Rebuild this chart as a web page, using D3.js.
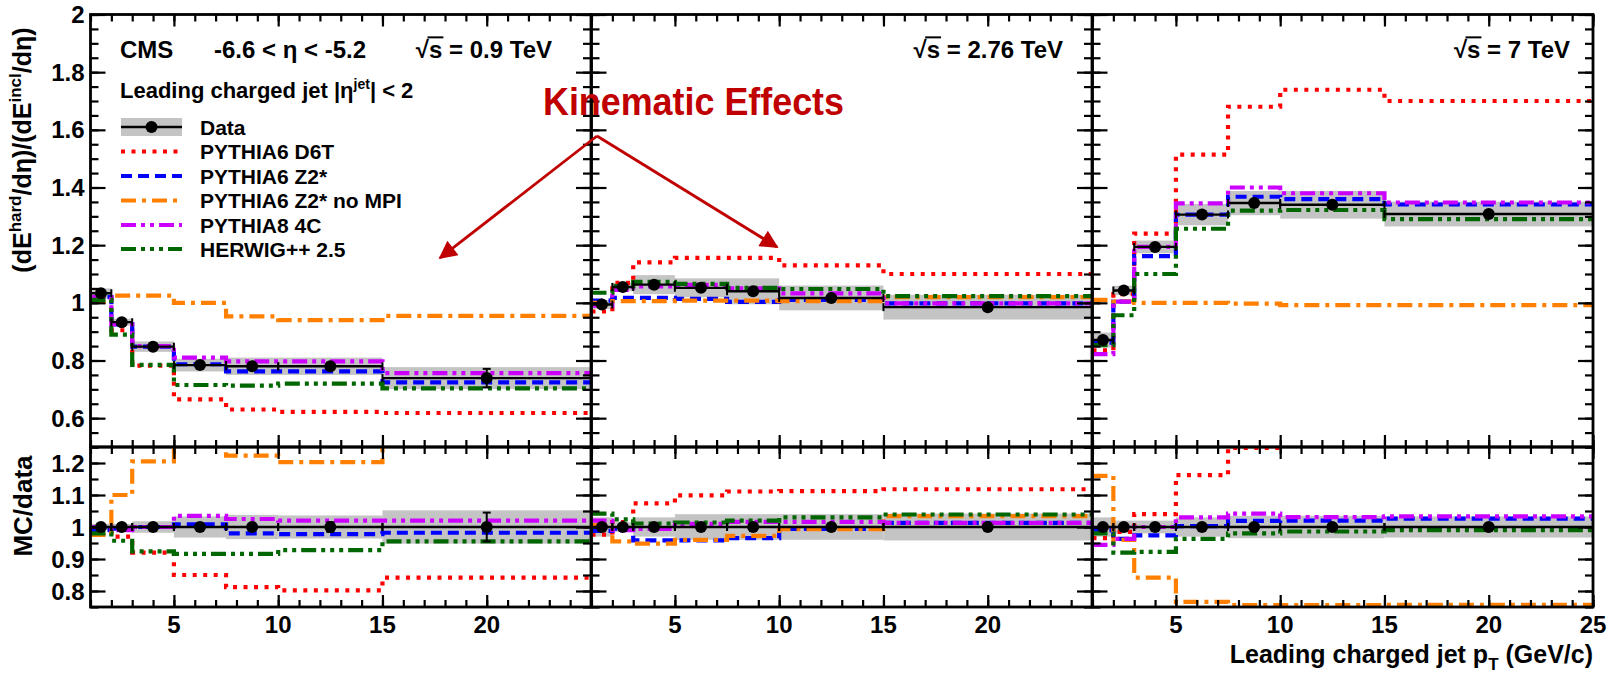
<!DOCTYPE html>
<html><head><meta charset="utf-8">
<script src="https://cdn.jsdelivr.net/npm/d3@7"></script>
<style>
body{margin:0;background:#fff}
svg{display:block}
text{font-family:"Liberation Sans",Arial,Helvetica,sans-serif;font-weight:bold;fill:#000}
</style>
</head><body>
<svg id="c" width="1617" height="674"></svg>
<script>
// ---------------- DATA ----------------
const binEdges = [1, 2, 3, 5, 7.5, 10, 15, 25];
const energyLabels = ["√s = 0.9 TeV", "√s = 2.76 TeV", "√s = 7 TeV"];
const xTickLabels = ["5", "10", "15", "20", "25"];
const topTickLabels = ["0.6", "0.8", "1", "1.2", "1.4", "1.6", "1.8", "2"];
const botTickLabels = ["0.8", "0.9", "1", "1.1", "1.2"];
const seriesNames = ["PYTHIA6 D6T", "PYTHIA6 Z2*", "PYTHIA6 Z2* no MPI", "PYTHIA8 4C", "HERWIG++ 2.5"];

// Data (per panel: 0.9, 2.76, 7 TeV)
const dataVal = [
  [1.033, 0.933, 0.848, 0.784, 0.780, 0.780, 0.739],
  [0.994, 1.055, 1.063, 1.052, 1.040, 1.017, 0.985],
  [0.871, 1.043, 1.194, 1.306, 1.346, 1.340, 1.308]
];
const dataSys = [
  [0.017, 0.012, 0.018, 0.022, 0.030, 0.030, 0.038],
  [0.015, 0.015, 0.033, 0.033, 0.045, 0.043, 0.043],
  [0.026, 0.016, 0.022, 0.037, 0.042, 0.048, 0.043]
];
const dataStat = [
  [0.006, 0.006, 0.006, 0.006, 0.008, 0.010, 0.032],
  [0.004, 0.004, 0.004, 0.005, 0.005, 0.006, 0.008],
  [0.004, 0.004, 0.004, 0.004, 0.005, 0.005, 0.008]
];
const ratioSys = [
  [0.010, 0.010, 0.018, 0.033, 0.038, 0.036, 0.052],
  [0.030, 0.015, 0.030, 0.040, 0.040, 0.040, 0.042],
  [0.030, 0.020, 0.020, 0.030, 0.035, 0.035, 0.033]
];
const ratioStat = [
  [0.004, 0.004, 0.005, 0.006, 0.008, 0.015, 0.045],
  [0.003, 0.003, 0.004, 0.004, 0.005, 0.006, 0.008],
  [0.003, 0.003, 0.003, 0.004, 0.004, 0.005, 0.007]
];

// Models, upper panels
const d6t = [
  [1.020, 0.905, 0.782, 0.665, 0.630, 0.622, 0.618],
  [0.970, 1.069, 1.140, 1.156, 1.156, 1.130, 1.100],
  [0.835, 1.030, 1.240, 1.514, 1.680, 1.739, 1.700]
];
const z2 = [
  [1.020, 0.925, 0.848, 0.787, 0.762, 0.762, 0.724],
  [1.008, 1.017, 1.017, 1.014, 1.003, 1.010, 0.998],
  [0.862, 1.004, 1.162, 1.306, 1.368, 1.360, 1.341]
];
const z2noMPI = [
  [1.003, 1.025, 1.025, 1.000, 0.953, 0.940, 0.955],
  [1.000, 1.006, 1.006, 1.008, 1.008, 1.006, 1.020],
  [1.010, 1.005, 1.000, 1.000, 0.997, 0.992, 0.992]
];
const p8_4c = [
  [1.020, 0.925, 0.850, 0.810, 0.797, 0.797, 0.756],
  [0.990, 1.045, 1.057, 1.062, 1.050, 1.033, 0.998],
  [0.822, 1.004, 1.194, 1.345, 1.400, 1.380, 1.348]
];
const herwig = [
  [1.010, 0.890, 0.785, 0.715, 0.713, 0.720, 0.703],
  [1.035, 1.058, 1.073, 1.066, 1.052, 1.048, 1.023],
  [0.853, 0.957, 1.100, 1.257, 1.320, 1.322, 1.290]
];

// Models, MC/data ratios
const d6tRatio = [
  [0.990, 0.970, 0.920, 0.850, 0.812, 0.802, 0.842],
  [0.976, 1.015, 1.074, 1.099, 1.111, 1.112, 1.118],
  [0.965, 0.985, 1.040, 1.162, 1.247, 1.300, 1.300]
];
const z2Ratio = [
  [0.990, 0.995, 1.000, 1.008, 0.980, 0.978, 0.982],
  [0.988, 0.995, 0.958, 0.958, 0.965, 0.994, 1.013],
  [0.990, 0.963, 0.974, 1.003, 1.019, 1.020, 1.026]
];
const z2noMPIRatio = [
  [0.975, 1.100, 1.205, 1.280, 1.223, 1.203, 1.300],
  [1.006, 0.955, 0.948, 0.960, 0.972, 0.993, 1.034],
  [1.160, 0.960, 0.842, 0.766, 0.756, 0.756, 0.757]
];
const p8_4cRatio = [
  [1.000, 0.990, 1.000, 1.035, 1.025, 1.020, 1.020],
  [1.020, 0.990, 0.994, 1.010, 1.016, 1.016, 1.013],
  [0.944, 0.963, 1.000, 1.030, 1.042, 1.031, 1.033]
];
const herwigRatio = [
  [0.980, 0.957, 0.924, 0.916, 0.916, 0.928, 0.955],
  [1.042, 1.024, 1.011, 1.014, 1.020, 1.030, 1.039],
  [0.980, 0.920, 0.922, 0.963, 0.980, 0.986, 0.990]
];

// ---------------- STYLE / LAYOUT ----------------
const models = [
  {name: seriesNames[0], top: d6t,     ratio: d6tRatio,     color: "#ff0000", dash: "4,6.5"},
  {name: seriesNames[1], top: z2,      ratio: z2Ratio,      color: "#0000ff", dash: "11,6"},
  {name: seriesNames[2], top: z2noMPI, ratio: z2noMPIRatio, color: "#ff8000", dash: "15,6,4,6"},
  {name: seriesNames[3], top: p8_4c,   ratio: p8_4cRatio,   color: "#cc00ff", dash: "15,5,4,5,4,5"},
  {name: seriesNames[4], top: herwig,  ratio: herwigRatio,  color: "#006600", dash: "15,5,4,5,4,5,4,5"}
];
const panelLeft = [90.5, 591.5, 1092.5];
const panelW = 500.5;
const topY = [14.5, 447];
const botY = [447, 607];
const bandColor = "#c4c4c4";
const modelWidth = 4.2;

const svg = d3.select("#c");
const defs = svg.append("defs");

const yTop = d3.scaleLinear().domain([0.5, 2.0]).range([topY[1], topY[0]]);
const yBot = d3.scaleLinear().domain([0.75, 1.25]).range([botY[1], botY[0]]);

function stepPoints(vals) {
  const pts = [];
  vals.forEach((v, i) => { pts.push([binEdges[i], v]); pts.push([binEdges[i + 1], v]); });
  return pts;
}

function tickGroup(g, axis, transform) {
  g.append("g").attr("transform", transform).call(axis)
    .call(a => a.select(".domain").remove())
    .call(a => a.selectAll("text").remove())
    .selectAll("line").attr("stroke", "#000").attr("stroke-width", 2.2);
}

function drawPad(p, which) {
  const x0 = panelLeft[p];
  const x = d3.scaleLinear().domain([1, 25]).range([x0, x0 + panelW]);
  const y = which === "top" ? yTop : yBot;
  const [ya, yb] = which === "top" ? topY : botY;
  const clipId = `clip-${which}-${p}`;
  defs.append("clipPath").attr("id", clipId).append("rect")
    .attr("x", x0).attr("y", ya).attr("width", panelW).attr("height", yb - ya);
  const g = svg.append("g");
  const plot = g.append("g").attr("clip-path", `url(#${clipId})`);

  const vals = which === "top" ? dataVal[p] : dataVal[p].map(() => 1);
  const sys = which === "top" ? dataSys[p] : ratioSys[p];
  const stat = which === "top" ? dataStat[p] : ratioStat[p];

  // systematic band
  plot.selectAll("rect.band").data(vals).join("rect").attr("class", "band")
    .attr("x", (d, i) => x(binEdges[i])).attr("width", (d, i) => x(binEdges[i + 1]) - x(binEdges[i]))
    .attr("y", (d, i) => y(d + sys[i])).attr("height", (d, i) => y(d - sys[i]) - y(d + sys[i]))
    .attr("fill", bandColor);

  // models
  const line = d3.line().x(d => x(d[0])).y(d => y(d[1]));
  models.forEach(m => {
    plot.append("path").attr("d", line(stepPoints(which === "top" ? m.top[p] : m.ratio[p])))
      .attr("fill", "none").attr("stroke", m.color).attr("stroke-width", modelWidth)
      .attr("stroke-dasharray", m.dash);
  });

  // data
  const dg = plot.append("g");
  vals.forEach((v, i) => {
    const xa = x(binEdges[i]), xb = x(binEdges[i + 1]), xc = x((binEdges[i] + binEdges[i + 1]) / 2);
    dg.append("line").attr("x1", xa).attr("x2", xb).attr("y1", y(v)).attr("y2", y(v))
      .attr("stroke", "#000").attr("stroke-width", 2.4);
    [xa, xb].forEach(xx => dg.append("line").attr("x1", xx).attr("x2", xx)
      .attr("y1", y(v) - 4).attr("y2", y(v) + 4).attr("stroke", "#000").attr("stroke-width", 2));
    dg.append("line").attr("x1", xc).attr("x2", xc).attr("y1", y(v - stat[i])).attr("y2", y(v + stat[i]))
      .attr("stroke", "#000").attr("stroke-width", 2);
    [v - stat[i], v + stat[i]].forEach(yy => dg.append("line").attr("x1", xc - 4).attr("x2", xc + 4)
      .attr("y1", y(yy)).attr("y2", y(yy)).attr("stroke", "#000").attr("stroke-width", 2));
    dg.append("circle").attr("cx", xc).attr("cy", y(v)).attr("r", 6).attr("fill", "#000");
  });

  // ticks
  const yMaj = (which === "top" ? topTickLabels : botTickLabels).map(Number);
  const yMin = which === "top" ? d3.range(0.5, 2.0001, 0.05) : d3.range(0.75, 1.2501, 0.05);
  const xMaj = xTickLabels.map(Number);
  const xMin = d3.range(1, 25.001, 1);
  tickGroup(g, d3.axisRight(y).tickValues(yMaj).tickSize(15), `translate(${x0},0)`);
  tickGroup(g, d3.axisRight(y).tickValues(yMin).tickSize(8), `translate(${x0},0)`);
  tickGroup(g, d3.axisLeft(y).tickValues(yMaj).tickSize(15), `translate(${x0 + panelW},0)`);
  tickGroup(g, d3.axisLeft(y).tickValues(yMin).tickSize(8), `translate(${x0 + panelW},0)`);
  tickGroup(g, d3.axisBottom(x).tickValues(xMaj).tickSize(12), `translate(0,${ya})`);
  tickGroup(g, d3.axisBottom(x).tickValues(xMin).tickSize(7), `translate(0,${ya})`);
  tickGroup(g, d3.axisTop(x).tickValues(xMaj).tickSize(12), `translate(0,${yb})`);
  tickGroup(g, d3.axisTop(x).tickValues(xMin).tickSize(7), `translate(0,${yb})`);

  // frame
  g.append("rect").attr("x", x0).attr("y", ya).attr("width", panelW).attr("height", yb - ya)
    .attr("fill", "none").attr("stroke", "#000").attr("stroke-width", 2.8);

  // labels
  if (p === 0) {
    const labels = which === "top" ? topTickLabels : botTickLabels;
    g.selectAll("text.yl").data(labels).join("text").attr("class", "yl")
      .attr("x", x0 - 6).attr("y", d => y(+d)).attr("dy", "0.36em")
      .attr("text-anchor", "end").attr("font-size", 24).text(d => d);
  }
  if (which === "bot") {
    const lbls = p === 2 ? xTickLabels : xTickLabels.slice(0, 4);
    g.selectAll("text.xl").data(lbls).join("text").attr("class", "xl")
      .attr("x", d => x(+d)).attr("y", 633).attr("text-anchor", "middle")
      .attr("font-size", 24).text(d => d);
  }
}

[0, 1, 2].forEach(p => { drawPad(p, "top"); drawPad(p, "bot"); });

// ---------------- TEXTS ----------------
function sqrtText(xPos, yBase, str, size, anchor) {
  const t = svg.append("text").attr("x", xPos).attr("y", yBase).attr("font-size", size)
    .attr("text-anchor", anchor).text(str);
  const n = t.node();
  const a = n.getEndPositionOfChar(0).x;
  const b = n.getEndPositionOfChar(1).x;
  svg.append("line").attr("x1", a - 1.5).attr("x2", b + 1).attr("y1", yBase - size * 0.86)
    .attr("y2", yBase - size * 0.86).attr("stroke", "#000").attr("stroke-width", 2);
}
const hdr = 24;
svg.append("text").attr("x", 120).attr("y", 58).attr("font-size", hdr).text("CMS");
svg.append("text").attr("x", 214).attr("y", 58).attr("font-size", hdr).text("-6.6 < η < -5.2");
sqrtText(552, 58, energyLabels[0], hdr, "end");
sqrtText(1063, 58, energyLabels[1], hdr, "end");
sqrtText(1570, 58, energyLabels[2], hdr, "end");

const lj = svg.append("text").attr("x", 120).attr("y", 98).attr("font-size", 22);
lj.append("tspan").text("Leading charged jet |η");
lj.append("tspan").attr("font-size", 14).attr("dy", -9).text("jet");
lj.append("tspan").attr("dy", 9).text("| < 2");

// Legend
const legY = [127, 151.5, 176, 200.5, 225, 249];
const lx0 = 121, lx1 = 182, ltx = 200;
svg.append("rect").attr("x", lx0).attr("y", legY[0] - 9).attr("width", lx1 - lx0).attr("height", 18).attr("fill", bandColor);
svg.append("line").attr("x1", lx0).attr("x2", lx1).attr("y1", legY[0]).attr("y2", legY[0]).attr("stroke", "#000").attr("stroke-width", 2.4);
svg.append("circle").attr("cx", (lx0 + lx1) / 2).attr("cy", legY[0]).attr("r", 6).attr("fill", "#000");
svg.append("text").attr("x", ltx).attr("y", legY[0] + 7.5).attr("font-size", 21).text("Data");
models.forEach((m, i) => {
  svg.append("line").attr("x1", lx0).attr("x2", lx1).attr("y1", legY[i + 1]).attr("y2", legY[i + 1])
    .attr("stroke", m.color).attr("stroke-width", modelWidth).attr("stroke-dasharray", m.dash);
  svg.append("text").attr("x", ltx).attr("y", legY[i + 1] + 7.5).attr("font-size", 21).text(m.name);
});

// Axis titles
const yt = svg.append("text").attr("transform", "translate(31,150) rotate(-90)")
  .attr("text-anchor", "middle").attr("font-size", 25);
yt.append("tspan").text("(dE");
yt.append("tspan").attr("font-size", 17).attr("dy", -10).text("hard");
yt.append("tspan").attr("dy", 10).text("/dη)/(dE");
yt.append("tspan").attr("font-size", 17).attr("dy", -10).text("incl");
yt.append("tspan").attr("dy", 10).text("/dη)");

svg.append("text").attr("transform", "translate(32,506) rotate(-90)")
  .attr("text-anchor", "middle").attr("font-size", 26).text("MC/data");

const xt = svg.append("text").attr("x", 1593).attr("y", 663).attr("text-anchor", "end").attr("font-size", 25);
xt.append("tspan").text("Leading charged jet p");
xt.append("tspan").attr("font-size", 17).attr("dy", 7).text("T");
xt.append("tspan").attr("dy", -7).text(" (GeV/c)");

// Annotation
const red = "#c00000";
const mk = defs.append("marker").attr("id", "arr").attr("viewBox", "0 0 10 10")
  .attr("refX", 9).attr("refY", 5).attr("markerWidth", 7).attr("markerHeight", 6.5)
  .attr("markerUnits", "strokeWidth").attr("orient", "auto");
mk.append("path").attr("d", "M0,0 L10,5 L0,10 z").attr("fill", red);
svg.append("text").attr("x", 543).attr("y", 115).attr("font-family", "Lato, 'Open Sans', sans-serif")
  .attr("font-size", 38).attr("textLength", 301).attr("lengthAdjust", "spacingAndGlyphs")
  .style("fill", red).text("Kinematic Effects");
svg.append("line").attr("x1", 597).attr("y1", 136).attr("x2", 440).attr("y2", 258)
  .attr("stroke", red).attr("stroke-width", 2.8).attr("marker-end", "url(#arr)");
svg.append("line").attr("x1", 597).attr("y1", 136).attr("x2", 777).attr("y2", 247)
  .attr("stroke", red).attr("stroke-width", 2.8).attr("marker-end", "url(#arr)");
</script>
</body></html>
